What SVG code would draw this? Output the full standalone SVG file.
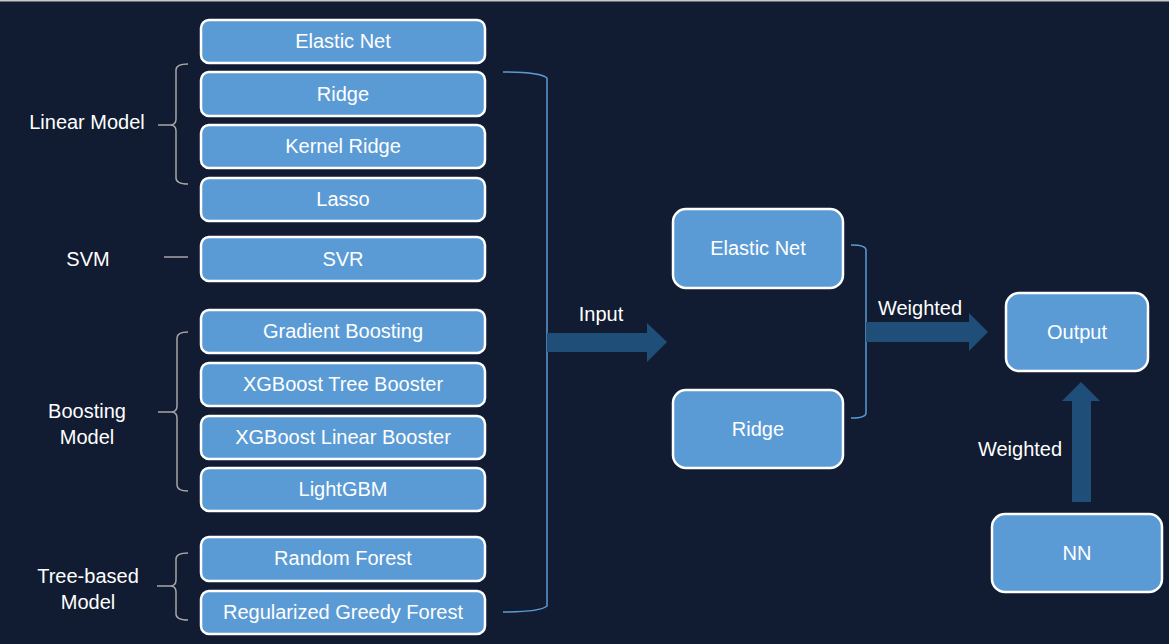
<svg xmlns="http://www.w3.org/2000/svg" width="1169" height="644" viewBox="0 0 1169 644">
<style>
.box{fill:#5b9bd5;stroke:#ffffff;stroke-width:2.5}
.t{font-family:"Liberation Sans",Arial,sans-serif;font-size:20px;fill:#ffffff;text-anchor:middle}
.lbl{font-family:"Liberation Sans",Arial,sans-serif;font-size:20px;fill:#ffffff;text-anchor:middle}
.brace{fill:none;stroke:#a6a6a6;stroke-width:1.5}
.blue{fill:none;stroke:#5b9bd5;stroke-width:1.5}
.arrow{fill:#1f4e79}
</style>
<rect x="0" y="0" width="1169" height="644" fill="#111b31"/>
<rect x="0" y="0" width="1169" height="1.5" fill="#c8c8c8"/>

<g id="labels">
<text class="lbl" x="87" y="129">Linear Model</text>
<text class="lbl" x="88" y="266">SVM</text>
<text class="lbl" x="87" y="418">Boosting</text>
<text class="lbl" x="87" y="444">Model</text>
<text class="lbl" x="88" y="583">Tree-based</text>
<text class="lbl" x="88" y="609">Model</text>
</g>

<g id="braces">
<path class="brace" d="M188,64 Q176,64 176,70 L176,119 Q176,125 170,125 L158,125 M170,125 Q176,125 176,131 L176,178 Q176,184 188,184"/>
<line class="brace" x1="164" y1="257" x2="188" y2="257"/>
<path class="brace" d="M188,332 Q177,332 177,338 L177,406 Q177,412 171,412 L158,412 M171,412 Q177,412 177,418 L177,485 Q177,491 188,491"/>
<path class="brace" d="M188,553 Q176,553 176,559 L176,580 Q176,586 170,586 L157,586 M170,586 Q176,586 176,592 L176,614 Q176,620 188,620"/>
</g>

<g id="n-elastic"><rect class="box" x="201" y="20" width="284" height="43" rx="8"/><text class="t" x="343" y="48">Elastic Net</text></g>
<g id="n-ridge"><rect class="box" x="201" y="72" width="284" height="44" rx="8"/><text class="t" x="343" y="101">Ridge</text></g>
<g id="n-kernel"><rect class="box" x="201" y="125" width="284" height="43" rx="8"/><text class="t" x="343" y="153">Kernel Ridge</text></g>
<g id="n-lasso"><rect class="box" x="201" y="178" width="284" height="43" rx="8"/><text class="t" x="343" y="206">Lasso</text></g>
<g id="n-svr"><rect class="box" x="201" y="237" width="284" height="44" rx="8"/><text class="t" x="343" y="266">SVR</text></g>
<g id="n-gb"><rect class="box" x="201" y="310" width="284" height="43" rx="8"/><text class="t" x="343" y="338">Gradient Boosting</text></g>
<g id="n-xgbt"><rect class="box" x="201" y="363" width="284" height="43" rx="8"/><text class="t" x="343" y="391">XGBoost Tree Booster</text></g>
<g id="n-xgbl"><rect class="box" x="201" y="416" width="284" height="43" rx="8"/><text class="t" x="343" y="444">XGBoost Linear Booster</text></g>
<g id="n-lgbm"><rect class="box" x="201" y="468" width="284" height="43" rx="8"/><text class="t" x="343" y="496">LightGBM</text></g>
<g id="n-rf"><rect class="box" x="201" y="537" width="284" height="44" rx="8"/><text class="t" x="343" y="565">Random Forest</text></g>
<g id="n-rgf"><rect class="box" x="201" y="591" width="284" height="43" rx="8"/><text class="t" x="343" y="619">Regularized Greedy Forest</text></g>

<g id="n-elastic2"><rect class="box" x="673" y="209" width="170" height="79" rx="13"/><text class="t" x="758" y="255">Elastic Net</text></g>
<g id="n-ridge2"><rect class="box" x="673" y="390" width="170" height="78" rx="13"/><text class="t" x="758" y="436">Ridge</text></g>
<g id="n-output"><rect class="box" x="1006" y="293" width="142" height="78" rx="13"/><text class="t" x="1077" y="339">Output</text></g>
<g id="n-nn"><rect class="box" x="992" y="514" width="170" height="78" rx="13"/><text class="t" x="1077" y="560">NN</text></g>

<g id="connectors">
<path class="blue" d="M503,72 Q540,72 547,78 L547,606 Q540,612 503,612"/>
<polygon class="arrow" points="547,333 647,333 647,323 667,342 647,362 647,352 547,352"/>
<path class="blue" d="M851,245 Q866,245 866,250 L866,413 Q866,418 851,418"/>
<polygon class="arrow" points="866,322 969,322 969,313 988,332 969,351 969,342 866,342"/>
<polygon class="arrow" points="1072,502 1072,401 1062,401 1081,382 1100,401 1091,401 1091,502"/>
<text class="lbl" x="601" y="321">Input</text>
<text class="lbl" x="920" y="315">Weighted</text>
<text class="lbl" x="1020" y="456">Weighted</text>
</g>
</svg>
